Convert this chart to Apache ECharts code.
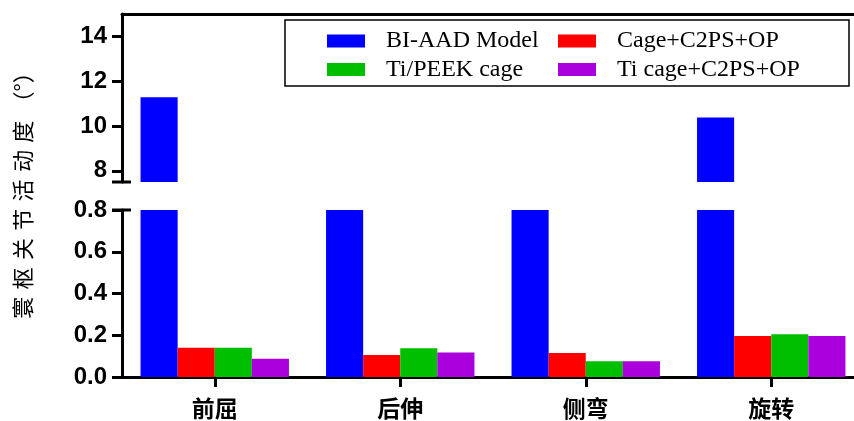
<!DOCTYPE html>
<html>
<head>
<meta charset="utf-8">
<script src="https://cdn.jsdelivr.net/npm/echarts@6/dist/echarts.min.js"></script>
<style>
  html, body { margin: 0; padding: 0; background: #fff; }
  #chart { width: 854px; height: 421px; }
</style>
</head>
<body>
<div id="chart"></div>
<script>
// categories and values
const categories = ['前屈', '后伸', '侧弯', '旋转'];
const seriesNames = ['BI-AAD Model', 'Cage+C2PS+OP', 'Ti/PEEK cage', 'Ti cage+C2PS+OP'];
const biAad = [11.28, 5.0, 5.0, 10.38];        // 后伸/侧弯 hidden in the axis break
const cageC2ps = [0.14, 0.105, 0.115, 0.196];
const tiPeek = [0.14, 0.138, 0.075, 0.205];
const tiCageC2ps = [0.087, 0.117, 0.075, 0.196];
const upperTicks = [8, 10, 12, 14];
const colors = ['#0000FF', '#FF0000', '#00BF00', '#AA00DD'];

const values = [biAad, cageC2ps, tiPeek, tiCageC2ps];

const chart = echarts.init(document.getElementById('chart'));

const tickLabel = { fontFamily: 'Liberation Sans', fontWeight: 'bold', fontSize: 24, color: '#000', margin: 15 };
const axisLine = { show: true, lineStyle: { color: '#000', width: 3 } };
const axisTick = { show: true, length: 10, lineStyle: { color: '#000', width: 3 } };

const series = [];
values.forEach((data, i) => {
  // upper part of the broken axis
  series.push({
    name: seriesNames[i], type: 'bar', xAxisIndex: 0, yAxisIndex: 0,
    data: data, barGap: 0, barCategoryGap: '20%', itemStyle: { color: colors[i] },
    clip: true, silent: true
  });
  // lower part
  series.push({
    name: seriesNames[i], type: 'bar', xAxisIndex: 1, yAxisIndex: 1,
    data: data, barGap: 0, barCategoryGap: '20%', itemStyle: { color: colors[i] },
    clip: true, silent: true
  });
});

const legendText = { fontFamily: 'Liberation Serif', fontSize: 24, color: '#000', lineHeight: 24, padding: [0, 0, 0, 16] };
const yName = '寰枢关节活动度'.split('').join('\u2004') + '\u2004（°）';

const option = {
  animation: false,
  grid: [
    { left: 122, top: 14, width: 742, height: 168, outerBoundsMode: 'none' },
    { left: 122, top: 210, width: 742, height: 167, outerBoundsMode: 'none' }
  ],
  xAxis: [
    { type: 'category', gridIndex: 0, data: categories, position: 'top',
      axisLine: axisLine, axisTick: { show: false }, axisLabel: { show: false } },
    { type: 'category', gridIndex: 1, data: categories, position: 'bottom',
      axisLine: axisLine,
      axisTick: { show: true, alignWithLabel: true, length: 10, lineStyle: { color: '#000', width: 3 } },
      axisLabel: { fontFamily: 'Noto Sans CJK SC', fontWeight: 'bold', fontSize: 23, color: '#000', margin: 20 } }
  ],
  yAxis: [
    { type: 'value', gridIndex: 0, min: 7.5, max: 15,
      axisLine: axisLine,
      axisTick: Object.assign({ customValues: upperTicks }, axisTick),
      axisLabel: Object.assign({ customValues: upperTicks }, tickLabel),
      splitLine: { show: false } },
    { type: 'value', gridIndex: 1, min: 0, max: 0.8, interval: 0.2,
      axisLine: axisLine, axisTick: axisTick,
      axisLabel: Object.assign({ formatter: v => v.toFixed(1) }, tickLabel),
      splitLine: { show: false } }
  ],
  legend: [
    { left: 322, top: 24, orient: 'vertical', itemWidth: 38, itemHeight: 13, itemGap: 4.5,
      data: [seriesNames[0], seriesNames[2]], textStyle: legendText, selectedMode: false,
      icon: 'rect' },
    { left: 553, top: 24, orient: 'vertical', itemWidth: 38, itemHeight: 13, itemGap: 4.5,
      data: [seriesNames[1], seriesNames[3]], textStyle: legendText, selectedMode: false,
      icon: 'rect' }
  ],
  graphic: [
    // legend box
    { type: 'rect', shape: { x: 285, y: 20, width: 564, height: 66 },
      style: { fill: 'none', stroke: '#000', lineWidth: 1.5 }, z: 1 },
    // axis break caps
    { type: 'line', shape: { x1: 112, y1: 182, x2: 131, y2: 182 },
      style: { stroke: '#000', lineWidth: 3 } },
    { type: 'line', shape: { x1: 112, y1: 210, x2: 131, y2: 210 },
      style: { stroke: '#000', lineWidth: 3 } },
    // y axis title
    { type: 'text', x: 23, y: 190, rotation: Math.PI / 2,
      style: { text: yName, fontFamily: 'Noto Sans CJK SC', fontSize: 22,
        fill: '#000', align: 'center', verticalAlign: 'middle' } }
  ],
  series: series
};

chart.setOption(option);
</script>
</body>
</html>
